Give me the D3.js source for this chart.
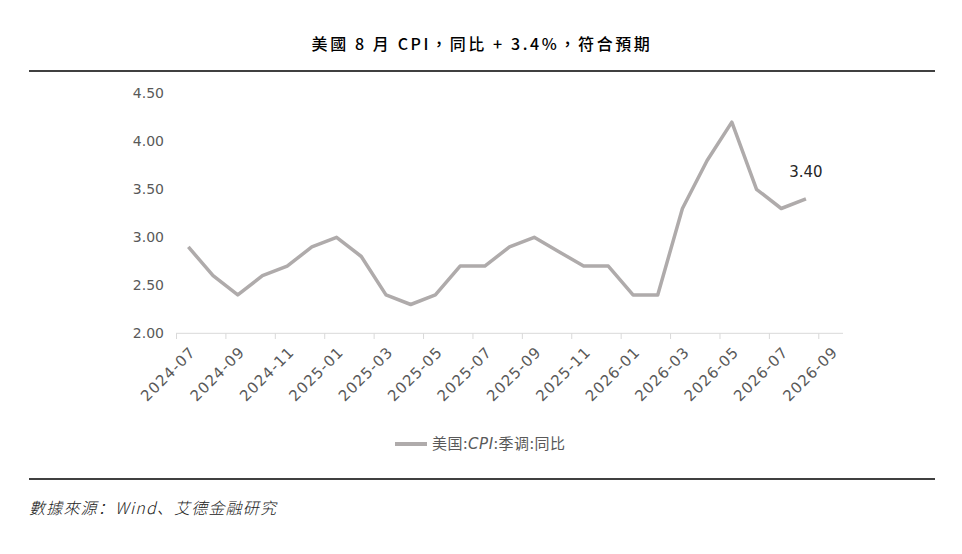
<!DOCTYPE html>
<html>
<head>
<meta charset="utf-8">
<script src="https://cdn.jsdelivr.net/npm/d3@7"></script>
<style>
  body { margin: 0; background: #fff; }
  svg { display: block; }
</style>
</head>
<body>
<svg id="chart" width="962" height="554"></svg>
<script>
// months on the category axis (last one has no value yet)
const months = ["2024-07","2024-08","2024-09","2024-10","2024-11","2024-12",
  "2025-01","2025-02","2025-03","2025-04","2025-05","2025-06","2025-07","2025-08",
  "2025-09","2025-10","2025-11","2025-12","2026-01","2026-02","2026-03","2026-04",
  "2026-05","2026-06","2026-07","2026-08","2026-09"];
// 美国:CPI:季调:同比
const cpiYoy = [2.9, 2.6, 2.4, 2.6, 2.7, 2.9, 3.0, 2.8, 2.4, 2.3, 2.4, 2.7, 2.7, 2.9,
  3.0, 2.85, 2.7, 2.7, 2.4, 2.4, 3.3, 3.8, 4.2, 3.5, 3.3, 3.4];
const yTicks = [2.0, 2.5, 3.0, 3.5, 4.0, 4.5];

const title = "美國 8 月 CPI，同比 + 3.4%，符合預期";
const legendName = ["美国:", "CPI", ":季调:同比"];
const source = "數據來源：Wind、艾德金融研究";

init();
function init(){
  const svg = d3.select("#chart");
  const tickFont = "'DejaVu Sans', sans-serif";
  const cjk = "'Noto Sans CJK SC', 'Noto Sans CJK TC', sans-serif";

  svg.append("rect").attr("width", 962).attr("height", 554).attr("fill", "#fff");

  // 标题
  svg.append("text")
    .attr("x", 482).attr("y", 50)
    .attr("text-anchor", "middle")
    .style("font-family", "'Noto Sans CJK TC', sans-serif")
    .style("font-size", "16px")
    .style("font-weight", 500)
    .style("letter-spacing", "2.6px")
    .attr("fill", "#000")
    .text(title);

  svg.append("line").attr("x1", 29).attr("x2", 935).attr("y1", 71).attr("y2", 71)
    .attr("stroke", "#000").attr("stroke-width", 1.3);
  svg.append("line").attr("x1", 29).attr("x2", 935).attr("y1", 479).attr("y2", 479)
    .attr("stroke", "#000").attr("stroke-width", 1.3);

  // scales
  let x = d3.scaleBand().domain(months).range([176, 843]).padding(0);
  let y = d3.scaleLinear().domain([2, 4.5]).range([333.3, 93.3]);

  // y axis labels only
  let yAxis = svg.append("g")
    .attr("transform", "translate(164,0)")
    .call(d3.axisLeft(y).tickValues(yTicks).tickFormat(d3.format(".2f")).tickSize(0).tickPadding(0));
  yAxis.select(".domain").remove();
  yAxis.selectAll("text")
    .style("font-family", tickFont).style("font-size", "14px")
    .attr("fill", "#595959");

  // x axis line + ticks at band edges every two months
  svg.append("line").attr("x1", 176).attr("x2", 843).attr("y1", 333.3).attr("y2", 333.3)
    .attr("stroke", "#d9d9d9").attr("stroke-width", 1);
  let labelled = months.filter((d, i) => i % 2 === 0);
  svg.append("g").selectAll("line")
    .data(labelled)
    .enter()
    .append("line")
    .attr("x1", d => x(d) + 0.5).attr("x2", d => x(d) + 0.5)
    .attr("y1", 333.3).attr("y2", 339)
    .attr("stroke", "#d9d9d9");
  svg.append("g").selectAll("text")
    .data(labelled)
    .enter()
    .append("text")
    .attr("text-anchor", "end")
    .attr("transform", d => "translate(" + (x(d) + x.bandwidth() / 2 + 8) + ",353) rotate(-45)")
    .style("font-family", tickFont).style("font-size", "15px")
    .style("letter-spacing", "1px")
    .attr("fill", "#595959")
    .text(d => d);

  // 折线
  let line = d3.line()
    .x((d, i) => x(months[i]) + x.bandwidth() / 2)
    .y(d => y(d));
  svg.append("path")
    .datum(cpiYoy)
    .attr("d", line)
    .attr("fill", "none")
    .attr("stroke", "#afabab")
    .attr("stroke-width", 3.5)
    .attr("stroke-linejoin", "round");

  // last value label
  let last = cpiYoy.length - 1;
  svg.append("text")
    .attr("x", x(months[last]) + x.bandwidth() / 2)
    .attr("y", y(cpiYoy[last]) - 22)
    .attr("text-anchor", "middle")
    .style("font-family", tickFont).style("font-size", "15px")
    .attr("fill", "#262626")
    .text(d3.format(".2f")(cpiYoy[last]));

  // legend
  svg.append("line").attr("x1", 395).attr("x2", 427).attr("y1", 444).attr("y2", 444)
    .attr("stroke", "#afabab").attr("stroke-width", 4);
  let lt = svg.append("text").attr("x", 432).attr("y", 449)
    .style("font-family", cjk).style("font-size", "15px")
    .style("letter-spacing", "0.6px").attr("fill", "#595959");
  lt.append("tspan").text(legendName[0]);
  lt.append("tspan").style("font-style", "italic").style("font-family", tickFont).text(legendName[1]);
  lt.append("tspan").text(legendName[2]);

  // source
  svg.append("text").attr("x", 29).attr("y", 514)
    .style("font-family", cjk).style("font-size", "16px")
    .style("font-style", "italic")
    .style("font-weight", 300)
    .style("letter-spacing", "1.2px")
    .attr("fill", "#222")
    .text(source);
}
</script>
</body>
</html>
